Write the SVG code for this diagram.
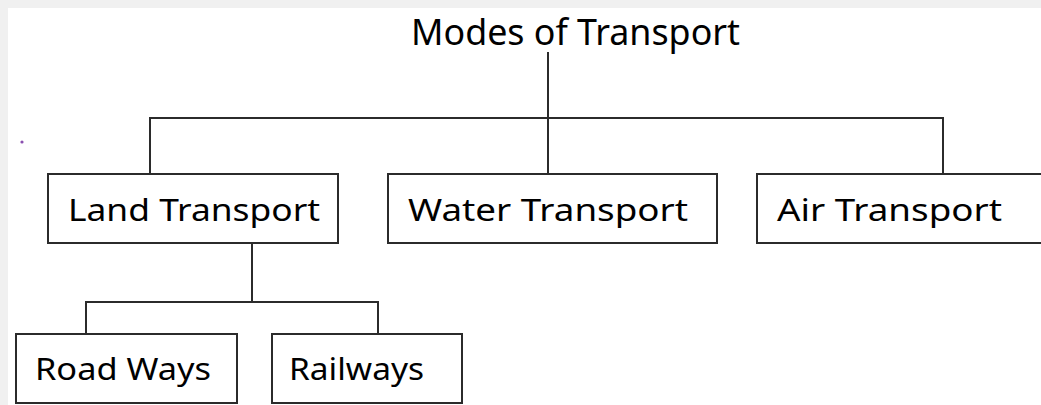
<svg xmlns="http://www.w3.org/2000/svg" width="1041" height="405" viewBox="0 0 1041 405">
<style>
.bg{fill:#ffffff}
.edge{fill:#f0f0f0}
.box{fill:#ffffff;stroke:#2b2b2b;stroke-width:2}
.conn{fill:none;stroke:#2b2b2b;stroke-width:2}
.lbl{font-family:"Comic Sans MS","Noto Sans","DejaVu Sans",sans-serif;font-size:31px;fill:#000000}
.title{font-family:"Comic Sans MS","Noto Sans","DejaVu Sans",sans-serif;font-size:37px;fill:#000000}
</style>
<rect class="bg" x="0" y="0" width="1041" height="405"/>
<rect class="edge" x="0" y="0" width="1041" height="8"/>
<rect class="edge" x="0" y="0" width="8" height="405"/>
<circle cx="22" cy="142" r="1.6" fill="#8a4fb0"/>
<g id="connectors">
<path class="conn" d="M548 52 V118 M150 176 V118 H943 V176 M548 118 V176"/>
<path class="conn" d="M252 243 V302 M86 333 V302 H378 V333"/>
</g>
<g id="title">
<text class="title" x="411" y="45" textLength="329" lengthAdjust="spacingAndGlyphs">Modes of Transport</text>
</g>
<g id="land">
<rect class="box" x="48" y="174" width="290" height="69"/>
<text class="lbl" x="68" y="221" textLength="252" lengthAdjust="spacingAndGlyphs">Land Transport</text>
</g>
<g id="water">
<rect class="box" x="388" y="174" width="329" height="69"/>
<text class="lbl" x="408" y="221" textLength="280" lengthAdjust="spacingAndGlyphs">Water Transport</text>
</g>
<g id="air">
<rect class="box" x="757" y="174" width="300" height="69"/>
<text class="lbl" x="777" y="221" textLength="225" lengthAdjust="spacingAndGlyphs">Air Transport</text>
</g>
<g id="road">
<rect class="box" x="16" y="334" width="221" height="69"/>
<text class="lbl" x="35" y="380" textLength="176" lengthAdjust="spacingAndGlyphs">Road Ways</text>
</g>
<g id="rail">
<rect class="box" x="272" y="334" width="190" height="69"/>
<text class="lbl" x="289" y="380" textLength="135" lengthAdjust="spacingAndGlyphs">Railways</text>
</g>
</svg>
